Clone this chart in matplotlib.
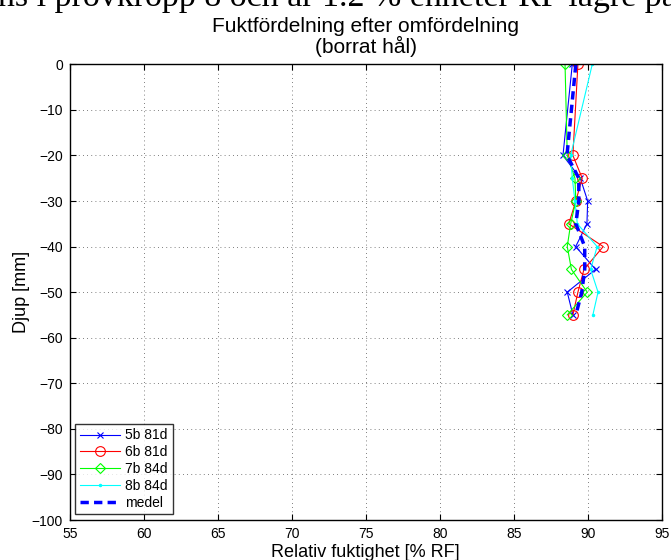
import matplotlib
matplotlib.use("Agg")
import matplotlib.pyplot as plt

plt.rcParams['font.family'] = ['Liberation Sans', 'DejaVu Sans']

# depth of measurement [mm]
depth = [0, -20, -25, -30, -35, -40, -45, -50, -55]

# relative humidity [% RF] per specimen
rf_5b = [88.96, 88.33, 89.5, 90.0, 89.95, 89.19, 90.53, 88.62, 89.0]
rf_6b = [89.34, 89.0, 89.63, 89.2, 88.72, 91.05, 89.75, 89.34, 89.0]
rf_7b = [88.47, 88.62, 89.14, 89.2, 88.85, 88.62, 88.9, 89.97, 88.62]
rf_8b = [90.31, 88.85, 88.96, 89.14, 89.3, 90.64, 90.2, 90.7, 90.35]
rf_medel = [89.2, 88.6, 89.4, 89.4, 89.2, 89.8, 89.8, 89.6, 89.2]

fig = plt.figure(figsize=(6.71, 5.6), dpi=100)
ax = fig.add_axes([0.1039, 0.0714, 0.8822, 0.8138])

ax.plot(rf_5b, depth, color="blue", lw=0.8, marker="x", ms=5, mew=0.8, label="5b 81d")
ax.plot(rf_6b, depth, color="red", lw=0.8, marker="o", ms=7, mfc="none", mew=0.8, label="6b 81d")
ax.plot(rf_7b, depth, color="#00ff00", lw=0.8, marker="D", ms=5.5, mfc="none", mew=0.8, label="7b 84d")
ax.plot(rf_8b, depth, color="cyan", lw=0.8, marker=".", ms=3, label="8b 84d")
ax.plot(rf_medel, depth, color="blue", lw=2.5, ls=(0, (2.4, 1.5)), label="medel")

ax.set_xlim(55, 95)
ax.set_ylim(-100, 0)
ax.set_xticks(range(55, 96, 5))
ax.set_yticks(range(-100, 1, 10))
ax.tick_params(direction="in", top=True, right=True, labelsize=10, length=4, pad=5)
ax.grid(True, color="#555555", ls=(0, (1, 4)), lw=0.6)
for s in ax.spines.values():
    s.set_linewidth(1.0)

ax.set_xlabel("Relativ fuktighet [% RF]", fontsize=13, labelpad=2)
ax.set_ylabel("Djup [mm]", fontsize=13, labelpad=1)
ax.set_title("Fuktfördelning efter omfördelning\n(borrat hål)", fontsize=15, pad=8, linespacing=1.0)

leg = ax.legend(loc="lower left", fontsize=10, frameon=True, fancybox=False,
                borderaxespad=0.4, handlelength=2.9, labelspacing=0.2, borderpad=0.35,
                handletextpad=0.35)
leg.get_frame().set_edgecolor("black")
leg.get_frame().set_linewidth(1.0)

# cropped line of page text above the figure
fig.text(-0.003, 1 - 6 / 560, "ns i provkropp 8 och är 1.2 % enheter RF lägre på n",
         fontsize=24.5, family="Liberation Serif", ha="left", va="baseline")

fig.savefig("out.png", dpi=100)
